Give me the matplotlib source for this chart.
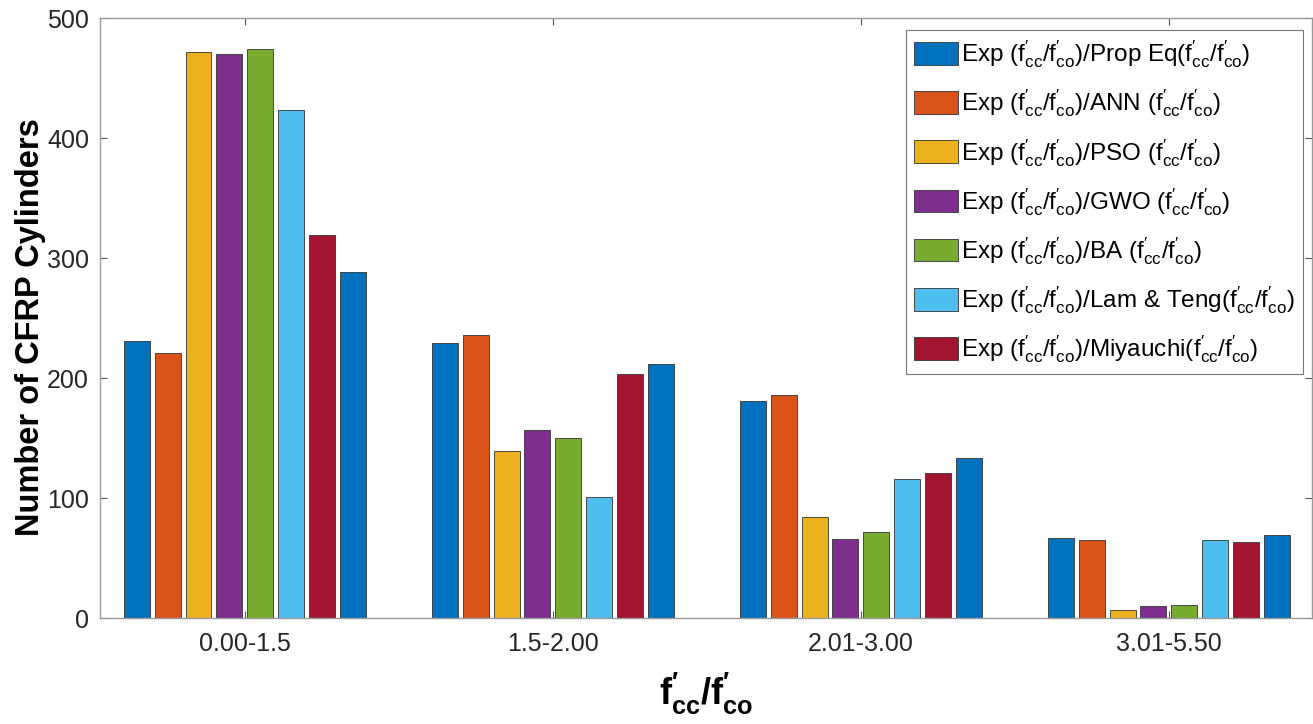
import matplotlib
matplotlib.use("Agg")
import matplotlib.pyplot as plt
import numpy as np

plt.rcParams['font.family'] = ['Liberation Sans', 'DejaVu Sans']
plt.rcParams['mathtext.fontset'] = 'custom'
plt.rcParams['mathtext.rm'] = 'Liberation Sans'
plt.rcParams['mathtext.it'] = 'Liberation Sans'
plt.rcParams['mathtext.bf'] = 'Liberation Sans:bold'

categories = ["0.00-1.5", "1.5-2.00", "2.01-3.00", "3.01-5.50"]
series_names = ["Prop Eq", "ANN ", "PSO ", "GWO ", "BA ", "Lam & Teng", "Miyauchi", None]
prop_eq  = [231, 229, 181, 67]
ann      = [221, 236, 186, 65]
pso      = [472, 139, 84, 7]
gwo      = [470, 157, 66, 10]
ba       = [474, 150, 72, 11]
lam_teng = [423, 101, 116, 65]
miyauchi = [319, 203, 121, 63]
series8  = [288, 212, 133, 69]
series = [prop_eq, ann, pso, gwo, ba, lam_teng, miyauchi, series8]
colors = ["#0072BD", "#D95319", "#EDB120", "#7E2F8E", "#77AC30", "#4DBEEE", "#A2142F", "#0072BD"]
yticks = [0, 100, 200, 300, 400, 500]

ratio = r"(f$^{\prime}_{\mathrm{cc}}$/f$^{\prime}_{\mathrm{co}}$)"

fig = plt.figure(figsize=(13.13, 7.24), dpi=100)
ax = fig.add_axes([100/1313, 1 - 618/724, (1312-100)/1313, 600/724])

x = np.arange(1, len(categories) + 1)
n = len(series)
step = 0.1
width = 0.084
for i, (vals, col, name) in enumerate(zip(series, colors, series_names)):
    lab = f"Exp {ratio}/{name}{ratio}" if name else "_nolegend_"
    ax.bar(x + (i - (n - 1) / 2) * step, vals, width=width, color=col,
           edgecolor="#333333", linewidth=0.6, label=lab)

ax.set_xlim(0.53, 4.465)
ax.set_ylim(0, 500)
ax.set_yticks(yticks)
ax.set_xticks(x)
ax.set_xticklabels(categories)
ax.tick_params(axis='both', direction='in', labelsize=18, color='#555555',
               top=True, right=True, length=5, width=0.8, labelcolor='#262626')
ax.tick_params(axis='x', pad=10)
ax.tick_params(axis='y', pad=8)
for sp in ax.spines.values():
    sp.set_color('#9a9a9a')
    sp.set_linewidth(1.0)

ax.set_ylabel("Number of CFRP Cylinders", fontsize=23.5, fontweight='bold', va='center')
ax.yaxis.set_label_coords(-0.0575, 0.485)
ax.set_xlabel(r"$\mathbf{f^{\prime}_{cc}/f^{\prime}_{co}}$", fontsize=26, labelpad=11)

leg = ax.legend(loc='upper right', bbox_to_anchor=(0.9925, 0.98), fontsize=17.5,
                frameon=True, fancybox=False, edgecolor='#555555',
                handlelength=1.8, handleheight=1.05, labelspacing=0.72,
                handletextpad=0.1, borderpad=0.35, borderaxespad=0)
leg.get_frame().set_linewidth(0.8)

fig.savefig("out.png", dpi=100)
